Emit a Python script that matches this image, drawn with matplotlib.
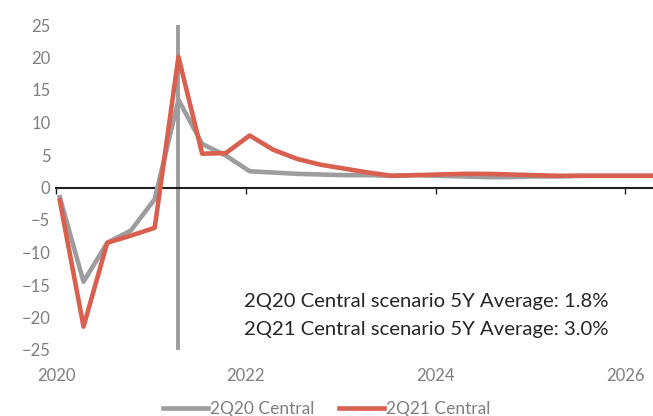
import matplotlib
matplotlib.use("Agg")
import matplotlib.pyplot as plt
import numpy as np

plt.rcParams['font.family'] = ['Lato', 'DejaVu Sans']

# quarterly GDP growth (%), 2020Q1 .. 2026Q2
quarters = 2020.04 + 0.25 * np.arange(26)
central_2q20 = [-1.5, -14.5, -8.5, -6.6, -1.8, 13.5, 6.7, 4.9, 2.5, 2.3, 2.1, 2.0, 1.9,
                1.9, 1.8, 1.9, 1.8, 1.7, 1.6, 1.6, 1.7, 1.7, 1.8, 1.8, 1.8, 1.8]
central_2q21 = [-2.0, -21.4, -8.5, -7.4, -6.2, 20.1, 5.2, 5.3, 8.0, 5.8, 4.4, 3.5, 2.9,
                2.3, 1.8, 1.9, 2.0, 2.1, 2.1, 2.0, 1.9, 1.8, 1.8, 1.8, 1.8, 1.8]
today = 2021.29
notes = ["2Q20 Central scenario 5Y Average: 1.8%",
         "2Q21 Central scenario 5Y Average: 3.0%"]

grey = "#9d9d9f"
red = "#d9604f"
label_col = "#7f7f7f"

fig = plt.figure(figsize=(6.53, 4.16), dpi=100)
ax = fig.add_axes([56 / 653, 66 / 416, 1 - 56 / 653, 325 / 416])

ax.axvline(today, color=grey, lw=2.8, zorder=1)
ax.plot(quarters, central_2q20, color=grey, lw=3.3, label="2Q20 Central", zorder=3)
ax.plot(quarters, central_2q21, color=red, lw=3.3, label="2Q21 Central", zorder=4)

ax.set_xlim(2020, 2026.29)
ax.set_ylim(-25, 25)
ax.set_yticks(np.arange(-25, 26, 5))
ax.tick_params(axis='y', length=0, labelsize=12, labelcolor=label_col, pad=4)

for s in ['top', 'right', 'left']:
    ax.spines[s].set_visible(False)
ax.spines['bottom'].set_position(('data', 0))
ax.spines['bottom'].set_color('#202020')
ax.spines['bottom'].set_linewidth(1.5)
ax.spines['bottom'].set_zorder(2)
ax.set_xticks([2020, 2022, 2024, 2026])
ax.tick_params(axis='x', direction='out', length=4, width=1, color='#202020',
               labelbottom=False)

sec = ax.secondary_xaxis('bottom')
sec.set_xticks([2020, 2022, 2024, 2026])
sec.tick_params(length=0, labelsize=12, labelcolor=label_col, pad=13)
sec.spines['bottom'].set_visible(False)

ax.text(2021.98, -17.5, notes[0], fontsize=14.6, color='#262626', va='center')
ax.text(2021.98, -21.8, notes[1], fontsize=14.6, color='#262626', va='center')

fig.legend(loc='center', bbox_to_anchor=(0.5, 1 - 409 / 416), ncol=2, frameon=False,
           fontsize=12.5, handlelength=2.6, handletextpad=0.1, columnspacing=1.4,
           labelcolor=label_col)

fig.savefig("out.png", dpi=100)
